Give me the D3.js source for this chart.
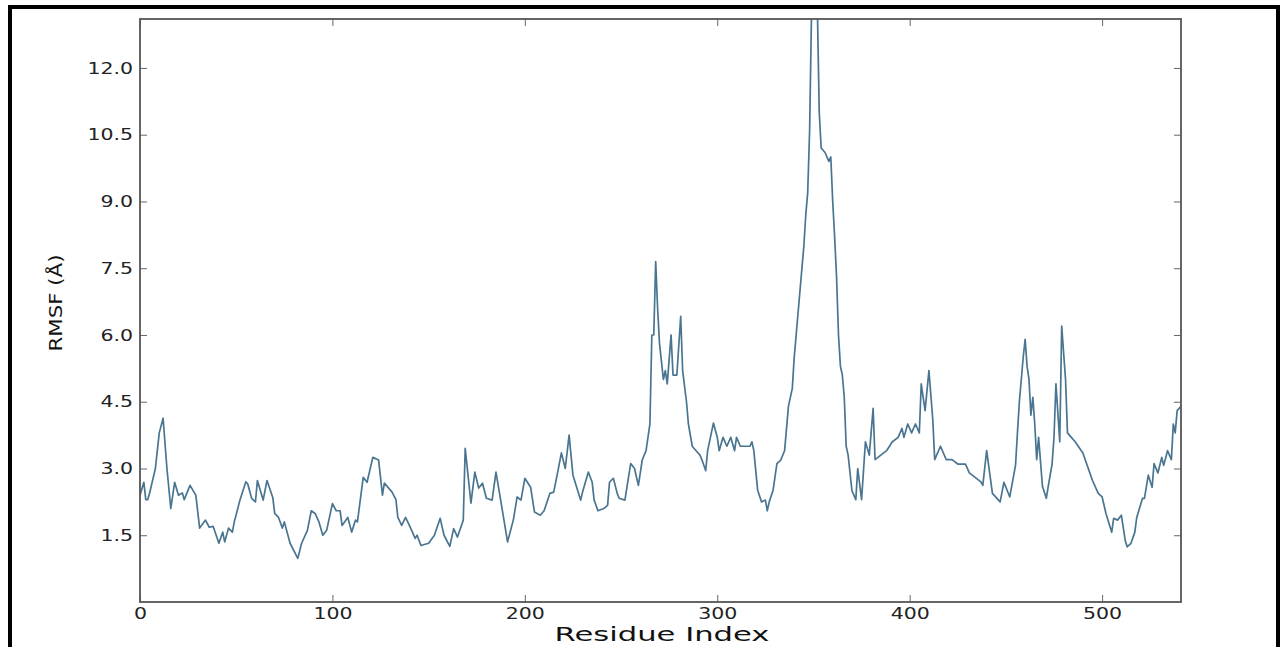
<!DOCTYPE html>
<html>
<head>
<meta charset="utf-8">
<script src="https://cdn.jsdelivr.net/npm/d3@7"></script>
<style>
    body { margin: 0; background: #fff; }
    #chart { width: 1284px; height: 647px; }
    .axis text { font-family: "DejaVu Sans", sans-serif; font-size: 16px; fill: #222; }
    .axisLabel { font-family: "DejaVu Sans", sans-serif; fill: #111; }
</style>
</head>
<body>
<div id="chart"></div>
<script>

    /*
    DATA
    */
    const residues = [0,2,3,4,5,8,10,12,14,16,18,20,22,23,26,29,31,34,36,38,41,43,44,46,48,49,52,55,56,58,60,61,64,66,69,70,72,74,75,78,82,84,87,89,91,93,95,97,100,102,104,105,108,110,112,113,116,118,121,124,126,127,131,133,134,136,138,140,143,144,146,150,153,156,158,161,163,165,168,169,172,174,176,178,180,183,185,187,189,191,194,196,198,200,203,205,208,210,213,215,217,219,221,223,225,229,230,233,235,236,238,241,243,244,246,248,249,252,255,257,259,260,261,263,265,266,267,268,269,270,272,273,274,276,277,279,281,282,284,285,287,289,291,292,294,295,298,300,301,303,305,307,309,310,312,315,317,318,319,321,323,325,326,327,329,331,333,335,337,339,340,341,343,345,346,347,348,349,350,351,352,353,354,356,358,359,360,361,362,363,364,365,366,367,368,370,372,373,375,377,379,381,382,385,388,391,394,396,397,399,401,403,405,406,408,410,412,413,416,419,422,425,429,431,434,437,438,440,443,447,449,452,455,456,457,459,460,461,462,463,464,465,466,467,469,471,472,474,475,476,478,479,481,482,484,486,490,492,495,498,500,502,505,506,508,510,512,513,515,517,518,521,522,524,526,527,529,531,532,534,536,537,538,539,541];

    const rmsf = [2.4,2.69,2.3,2.3,2.45,3.0,3.8,4.13,3.0,2.1,2.69,2.4,2.45,2.3,2.62,2.4,1.66,1.84,1.68,1.7,1.32,1.57,1.35,1.66,1.57,1.8,2.3,2.7,2.65,2.33,2.25,2.73,2.29,2.73,2.35,1.99,1.9,1.66,1.8,1.32,0.98,1.32,1.61,2.05,1.99,1.8,1.5,1.61,2.21,2.05,2.05,1.72,1.9,1.57,1.84,1.8,2.8,2.69,3.25,3.19,2.4,2.67,2.47,2.3,1.9,1.72,1.9,1.72,1.43,1.5,1.27,1.32,1.5,1.88,1.5,1.25,1.65,1.46,1.84,3.45,2.22,2.92,2.56,2.67,2.33,2.29,2.92,2.4,1.88,1.35,1.84,2.36,2.29,2.78,2.58,2.02,1.95,2.05,2.44,2.47,2.9,3.35,3.0,3.75,2.85,2.29,2.47,2.92,2.69,2.29,2.05,2.1,2.17,2.69,2.78,2.44,2.33,2.29,3.11,3.0,2.62,2.9,3.19,3.4,4.0,6.0,6.0,7.65,6.6,5.8,5.0,5.2,4.9,6.0,5.1,5.1,6.42,5.2,4.5,4.0,3.5,3.4,3.3,3.2,2.95,3.4,4.02,3.7,3.4,3.7,3.5,3.7,3.4,3.7,3.5,3.5,3.5,3.6,3.4,2.51,2.25,2.29,2.05,2.25,2.51,3.11,3.19,3.4,4.4,4.8,5.5,6.0,7.0,8.0,8.7,9.2,10.6,13.3,14.2,14.0,13.4,11.0,10.2,10.1,9.9,10.0,9.0,8.2,7.3,6.0,5.3,5.1,4.6,3.5,3.3,2.5,2.3,3.0,2.3,3.6,3.3,4.35,3.2,3.3,3.4,3.6,3.7,3.9,3.7,4.0,3.8,4.0,3.8,4.9,4.3,5.2,4.1,3.2,3.5,3.2,3.2,3.1,3.1,2.9,2.8,2.7,2.62,3.4,2.44,2.25,2.69,2.36,3.07,3.8,4.5,5.5,5.9,5.3,5.0,4.2,4.6,4.0,3.2,3.7,2.6,2.33,2.6,3.1,3.7,4.9,3.6,6.2,5.0,3.8,3.7,3.6,3.35,3.1,2.73,2.44,2.36,1.99,1.57,1.88,1.84,1.95,1.39,1.24,1.32,1.57,1.9,2.33,2.33,2.85,2.58,3.11,2.9,3.25,3.07,3.4,3.2,4.0,3.8,4.3,4.4];

    const xTicks = [0, 100, 200, 300, 400, 500];
    const yTicks = [1.5, 3.0, 4.5, 6.0, 7.5, 9.0, 10.5, 12.0];

    const data = residues.map(function(r, i) { return {residue: r, rmsf: rmsf[i]}; });

    /*
    DEFINE DIMENSIONS AND GENERATE SVG
    */
    const width = 1284;
    const height = 647;
    const margin = {top: 19, left: 140, right: 103, bottom: 45};

    const svg = d3.select("#chart")
        .append("svg")
        .attr("width", width)
        .attr("height", height);

    // black outer frame (bottom edge falls outside the picture)
    svg.append("rect")
        .attr("x", 10)
        .attr("y", 7)
        .attr("width", 1268)
        .attr("height", 700)
        .attr("fill", "none")
        .attr("stroke", "#000")
        .attr("stroke-width", 4);

    /*
    DEFINE SCALES
    */
    const xScale = d3.scaleLinear()
        .domain([0, 541])
        .range([margin.left, width - margin.right]);

    const yScale = d3.scaleLinear()
        .domain([0, 13.1])
        .range([height - margin.bottom, margin.top]);

    /*
    DRAW LINE
    */
    svg.append("clipPath")
        .attr("id", "plotClip")
        .append("rect")
        .attr("x", margin.left)
        .attr("y", margin.top)
        .attr("width", width - margin.right - margin.left)
        .attr("height", height - margin.bottom - margin.top);

    const line = d3.line()
        .x(function(d) { return xScale(d.residue); })
        .y(function(d) { return yScale(d.rmsf); });

    svg.append("path")
        .datum(data)
        .attr("clip-path", "url(#plotClip)")
        .attr("d", line)
        .attr("fill", "none")
        .attr("stroke", "#4a7590")
        .attr("stroke-width", 1.7)
        .attr("stroke-linejoin", "round");

    /*
    DRAW AXES (ticks point inward, on all four sides)
    */
    const sx = 1.28;

    const xAxis = svg.append("g")
        .attr("class", "axis")
        .attr("transform", `translate(0,${height - margin.bottom})`)
        .call(d3.axisBottom(xScale).tickValues(xTicks).tickSize(-7).tickPadding(6).tickFormat(d3.format("d")));

    xAxis.selectAll("text").attr("transform", `scale(${sx},1)`);

    const yAxis = svg.append("g")
        .attr("class", "axis")
        .attr("transform", `translate(${margin.left},0)`)
        .call(d3.axisLeft(yScale).tickValues(yTicks).tickSize(-7).tickPadding(7).tickFormat(d3.format(".1f")));

    yAxis.selectAll("text")
        .attr("x", -7 / sx)
        .attr("transform", `scale(${sx},1)`);

    svg.append("g")
        .attr("class", "axis")
        .attr("transform", `translate(0,${margin.top})`)
        .call(d3.axisTop(xScale).tickValues(xTicks).tickSize(-7).tickFormat(""));

    svg.append("g")
        .attr("class", "axis")
        .attr("transform", `translate(${width - margin.right},0)`)
        .call(d3.axisRight(yScale).tickValues(yTicks).tickSize(-7).tickFormat(""));

    svg.selectAll(".axis .domain").remove();
    svg.selectAll(".axis line").attr("stroke", "#666").attr("stroke-width", 1);

    // spines
    svg.append("rect")
        .attr("x", margin.left)
        .attr("y", margin.top)
        .attr("width", width - margin.right - margin.left)
        .attr("height", height - margin.bottom - margin.top)
        .attr("fill", "none")
        .attr("stroke", "#555")
        .attr("stroke-width", 1.8);

    /*
    DRAW AXIS LABELS
    */
    svg.append("text")
        .attr("class", "axisLabel")
        .attr("x", 662)
        .attr("y", 641)
        .attr("text-anchor", "middle")
        .attr("font-size", 19)
        .attr("textLength", 215)
        .attr("lengthAdjust", "spacingAndGlyphs")
        .text("Residue Index");

    svg.append("text")
        .attr("class", "axisLabel")
        .attr("transform", "translate(61.5,303) rotate(-90)")
        .attr("text-anchor", "middle")
        .attr("font-size", 18)
        .attr("textLength", 97)
        .attr("lengthAdjust", "spacingAndGlyphs")
        .text("RMSF (Å)");

</script>
</body>
</html>
